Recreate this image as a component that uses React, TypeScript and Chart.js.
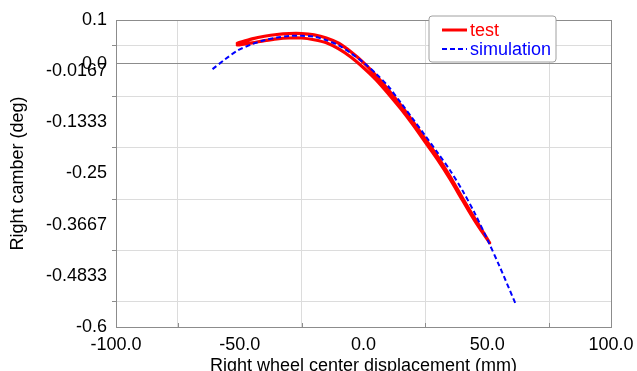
import React, { useEffect, useRef } from "react";
import { Chart, registerables } from "chart.js";

Chart.register(...registerables);

// ---- data ----
const simX = [-61, -56, -51, -45, -40, -35, -30, -25, -20, -15, -10, -5, 0, 5, 10, 15, 20, 25, 30, 35, 40, 45, 50, 55, 61.5];
const simY = [-0.012, 0.01, 0.03, 0.045, 0.054, 0.06, 0.0635, 0.064, 0.062, 0.054, 0.042, 0.024, 0.003, -0.022, -0.051, -0.088, -0.126, -0.164, -0.203, -0.243, -0.289, -0.341, -0.4, -0.462, -0.548];

const testX = [-51, -45, -40, -35, -30, -25, -20, -15, -10, -5, 0, 5, 10, 15, 20, 25, 30, 35, 40, 45, 51, 45, 40, 35, 30, 25, 20, 15, 10, 5, 0, -5, -10, -15, -20, -25, -30, -35, -40, -45, -51];
const testY = [0.047, 0.057, 0.063, 0.067, 0.069, 0.069, 0.066, 0.059, 0.047, 0.027, 0.003, -0.026, -0.059, -0.094, -0.132, -0.172, -0.212, -0.257, -0.306, -0.353, -0.408, -0.358, -0.311, -0.263, -0.219, -0.179, -0.139, -0.102, -0.068, -0.036, -0.009, 0.015, 0.034, 0.048, 0.055, 0.059, 0.059, 0.057, 0.053, 0.048, 0.043];

const xTickValues = [-100, -75, -50, -25, 0, 25, 50, 75, 100];
const xTickLabels = ["-100.0", "", "-50.0", "", "0.0", "", "50.0", "", "100.0"];
const yTickValues = [0.1, 0.041667, 0, -0.016667, -0.075, -0.133333, -0.191667, -0.25, -0.308333, -0.366667, -0.425, -0.483333, -0.541667, -0.6];
const yTickLabels = ["0.1", "", "0.0", "-0.0167", "", "-0.1333", "", "-0.25", "", "-0.3667", "", "-0.4833", "", "-0.6"];

const seriesNames = ["test", "simulation"];
const seriesColors = ["#ff0000", "#0000ff"];

const FONT = "'Liberation Sans', Arial, sans-serif";

const frameAndLegend = {
  id: "frameAndLegend",
  afterDatasetsDraw(chart: any) {
    const { ctx, chartArea } = chart;
    ctx.save();
    // minor x tick marks inside the plot
    const xs = chart.scales.x;
    ctx.strokeStyle = "#8c8c8c";
    ctx.lineWidth = 1;
    xTickValues.forEach((v, i) => {
      if (xTickLabels[i] !== "") return;
      const px = Math.round(xs.getPixelForValue(v)) + 0.5;
      ctx.beginPath();
      ctx.moveTo(px, chartArea.bottom);
      ctx.lineTo(px, chartArea.bottom - 4);
      ctx.stroke();
    });
    ctx.strokeRect(Math.round(chartArea.left) + 0.5, Math.round(chartArea.top) + 0.5, Math.round(chartArea.right - chartArea.left), Math.round(chartArea.bottom - chartArea.top));
    // legend
    const lx = 429, ly = 16, lw = 127, lh = 46, r = 3;
    ctx.beginPath();
    ctx.moveTo(lx + r, ly);
    ctx.lineTo(lx + lw - r, ly);
    ctx.quadraticCurveTo(lx + lw, ly, lx + lw, ly + r);
    ctx.lineTo(lx + lw, ly + lh - r);
    ctx.quadraticCurveTo(lx + lw, ly + lh, lx + lw - r, ly + lh);
    ctx.lineTo(lx + r, ly + lh);
    ctx.quadraticCurveTo(lx, ly + lh, lx, ly + lh - r);
    ctx.lineTo(lx, ly + r);
    ctx.quadraticCurveTo(lx, ly, lx + r, ly);
    ctx.closePath();
    ctx.fillStyle = "#ffffff";
    ctx.fill();
    ctx.strokeStyle = "#a0a0a0";
    ctx.stroke();
    const rows = [30, 49];
    ctx.font = `18px ${FONT}`;
    ctx.textBaseline = "middle";
    ctx.textAlign = "left";
    rows.forEach((y, i) => {
      ctx.beginPath();
      ctx.strokeStyle = seriesColors[i];
      ctx.lineWidth = i === 0 ? 3 : 2;
      ctx.setLineDash(i === 0 ? [] : [5, 3]);
      ctx.moveTo(442, y);
      ctx.lineTo(467, y);
      ctx.stroke();
      ctx.setLineDash([]);
      ctx.fillStyle = seriesColors[i];
      ctx.fillText(seriesNames[i], 470, y + 1);
    });
    ctx.restore();
  },
};

export default function App() {
  const ref = useRef<HTMLCanvasElement>(null);
  useEffect(() => {
    document.body.style.margin = "0";
    const canvas = ref.current!;
    const chart = new Chart(canvas, {
      type: "scatter",
      data: {
        datasets: [
          {
            label: seriesNames[1],
            data: simX.map((x, i) => ({ x, y: simY[i] })),
            showLine: true,
            borderColor: seriesColors[1],
            borderWidth: 2,
            borderDash: [5, 3],
            pointRadius: 0,
            tension: 0.3,
            order: 0,
          },
          {
            label: seriesNames[0],
            data: testX.map((x, i) => ({ x, y: testY[i] })),
            showLine: true,
            borderColor: seriesColors[0],
            borderWidth: 3.2,
            borderCapStyle: "round",
            borderJoinStyle: "round",
            pointRadius: 0,
            tension: 0.3,
            order: 1,
          },
        ] as any,
      },
      options: {
        animation: false,
        responsive: false,
        layout: { padding: { left: 0, top: 20, right: 26, bottom: 0 } },
        plugins: { legend: { display: false }, tooltip: { enabled: false } },
        scales: {
          x: {
            type: "linear",
            min: -100,
            max: 100,
            afterBuildTicks: (s: any) => {
              s.ticks = xTickValues.map((v) => ({ value: v }));
            },
            afterFit: (s: any) => {
              s.height = 44;
              s.paddingLeft = 0;
              s.paddingRight = 0;
            },
            ticks: {
              autoSkip: false,
              maxRotation: 0,
              padding: 7,
              color: "#000",
              font: { size: 18, family: FONT },
              callback: (_v: any, i: number) => xTickLabels[i],
            },
            grid: {
              drawTicks: false,
              color: (c: any) => (c.tick && xTickLabels[xTickValues.indexOf(c.tick.value)] === "" ? "#dcdcdc" : "rgba(0,0,0,0)"),
              lineWidth: 1,
            },
            border: { display: false },
            title: {
              display: true,
              text: "Right wheel center displacement (mm)",
              color: "#000",
              font: { size: 18, family: FONT },
              padding: { top: 0, bottom: -6 },
            },
          },
          y: {
            type: "linear",
            min: -0.6,
            max: 0.1,
            afterBuildTicks: (s: any) => {
              s.ticks = yTickValues.map((v) => ({ value: v }));
            },
            afterFit: (s: any) => {
              s.width = 116;
            },
            ticks: {
              autoSkip: false,
              padding: 5,
              color: "#000",
              font: { size: 18, family: FONT },
              callback: (_v: any, i: number) => yTickLabels[i],
            },
            grid: {
              drawTicks: true,
              tickLength: 4,
              color: (c: any) => {
                if (!c.tick) return "rgba(0,0,0,0)";
                if (c.tick.value === 0) return "#8c8c8c";
                const idx = yTickValues.indexOf(c.tick.value);
                return yTickLabels[idx] === "" ? "#dcdcdc" : "rgba(0,0,0,0)";
              },
              tickColor: (c: any) => {
                if (!c.tick) return "rgba(0,0,0,0)";
                const idx = yTickValues.indexOf(c.tick.value);
                return yTickLabels[idx] === "" ? "#8c8c8c" : "rgba(0,0,0,0)";
              },
              lineWidth: 1,
            },
            border: { display: false },
            title: {
              display: true,
              text: "Right camber (deg)",
              color: "#000",
              font: { size: 18, family: FONT },
              padding: { top: 7, bottom: 0 },
            },
          },
        },
      } as any,
      plugins: [frameAndLegend],
    });
    return () => chart.destroy();
  }, []);
  return (
    <div style={{ width: 637, height: 371, position: "relative", overflow: "hidden" }}>
      <canvas ref={ref} width={637} height={371} style={{ display: "block", width: 637, height: 371 }} />
    </div>
  );
}
